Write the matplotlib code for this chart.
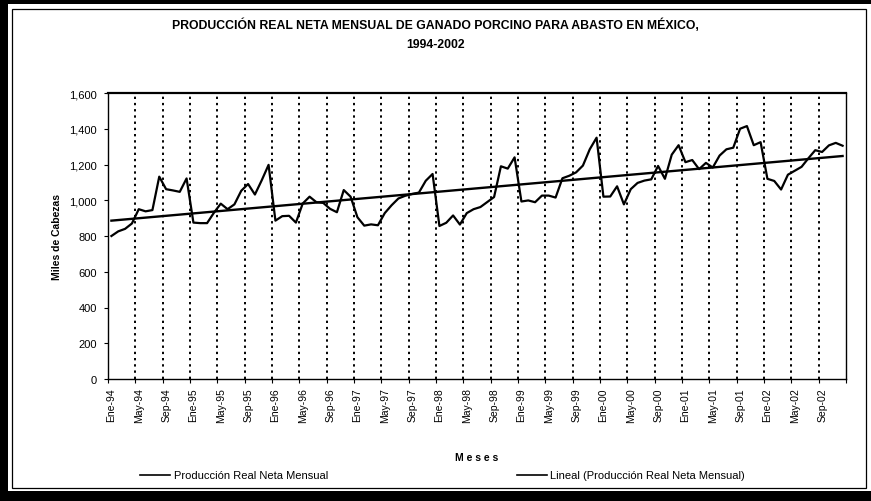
import numpy as np
import matplotlib
matplotlib.use("Agg")
import matplotlib.pyplot as plt
from matplotlib.lines import Line2D
from matplotlib.patches import Rectangle
from matplotlib.ticker import FuncFormatter

plt.rcParams['font.family'] = ['Liberation Sans', 'DejaVu Sans']

# ---- data (miles de cabezas), Ene-94 ... Dic-02 ----
produccion = [
    800, 826, 840, 870, 950, 938, 945, 1132, 1062, 1055, 1047, 1122,      # 1994
    875, 872, 872, 930, 981, 950, 977, 1053, 1091, 1032, 1112, 1198,      # 1995
    886, 911, 913, 875, 982, 1020, 989, 985, 952, 933, 1057, 1020,        # 1996
    905, 858, 865, 860, 928, 972, 1010, 1025, 1035, 1043, 1109, 1147,     # 1997
    856, 874, 915, 864, 928, 950, 962, 990, 1018, 1190, 1177, 1240,       # 1998
    993, 999, 989, 1026, 1026, 1015, 1123, 1137, 1156, 1194, 1285, 1350,  # 1999
    1020, 1021, 1078, 977, 1062, 1097, 1110, 1117, 1192, 1120, 1255, 1308,  # 2000
    1213, 1225, 1174, 1209, 1183, 1250, 1285, 1294, 1400, 1415, 1308, 1325,  # 2001
    1120, 1108, 1060, 1143, 1165, 1187, 1235, 1280, 1270, 1307, 1321, 1305,  # 2002
]
tick_labels = ['Ene-94', 'May-94', 'Sep-94', 'Ene-95', 'May-95', 'Sep-95',
               'Ene-96', 'May-96', 'Sep-96', 'Ene-97', 'May-97', 'Sep-97',
               'Ene-98', 'May-98', 'Sep-98', 'Ene-99', 'May-99', 'Sep-99',
               'Ene-00', 'May-00', 'Sep-00', 'Ene-01', 'May-01', 'Sep-01',
               'Ene-02', 'May-02', 'Sep-02']
y_ticks = [0, 200, 400, 600, 800, 1000, 1200, 1400, 1600]
titulo = "PRODUCCIÓN REAL NETA MENSUAL DE GANADO PORCINO PARA ABASTO EN MÉXICO,\n1994-2002"
serie_nombre = "Producción Real Neta Mensual"
tendencia_nombre = "Lineal (Producción Real Neta Mensual)"

W, H = 871, 502
def fx(px):
    return px / W
def fy(py):
    return 1 - py / H

fig = plt.figure(figsize=(W / 100, H / 100), dpi=100)
fig.patch.set_facecolor('white')

# outer frame
fig.add_artist(Rectangle((0, 0), fx(8), 1, transform=fig.transFigure, color='black', lw=0))
fig.add_artist(Rectangle((0, fy(5)), 1, 5 / H, transform=fig.transFigure, color='black', lw=0))
fig.add_artist(Rectangle((0, 0), 1, fy(492), transform=fig.transFigure, color='black', lw=0))
fig.add_artist(Rectangle((fx(12), fy(489)), fx(866) - fx(12), fy(10) - fy(489),
                         transform=fig.transFigure, fill=False, ec='black', lw=0.9))

ax = fig.add_axes([fx(108), fy(380), fx(846) - fx(108), fy(94) - fy(380)])
n = len(produccion)
x = np.arange(n)
y = np.array(produccion, dtype=float)
coef = np.polyfit(x, y, 1)
trend = np.polyval(coef, x)

# dotted vertical gridlines at category boundaries every 4 months
bounds = np.arange(4, n, 4) - 0.5
for b in bounds:
    ax.axvline(b, color='black', ls=(0, (1.2, 2.0)), lw=1.4, zorder=1)

ax.plot(x, y, color='black', lw=1.6, zorder=3)
ax.plot(x, trend, color='black', lw=1.7, zorder=3)

ax.set_xlim(-0.5, n - 0.5)
ax.set_ylim(0, 1600)
ax.set_yticks(y_ticks)
ax.yaxis.set_major_formatter(FuncFormatter(lambda v, p: f"{int(v):,}"))
ax.set_xticks(np.arange(0, n, 4))
ax.set_xticklabels(tick_labels, rotation=90, fontsize=7.5)
ax.set_xticks(np.arange(0, n + 1, 4) - 0.5, minor=True)
ax.tick_params(axis='x', which='major', length=0, pad=6)
ax.tick_params(axis='x', which='minor', length=3, direction='out', width=0.8)
ax.tick_params(axis='y', length=3, direction='out', width=0.8, labelsize=8, pad=5)
for s in ax.spines.values():
    s.set_color('black')
    s.set_linewidth(1.0)
ax.spines['top'].set_linewidth(1.6)

fig.text(0.5, fy(35), titulo, ha='center', va='center', fontsize=8.8,
         fontweight='bold', linespacing=1.8)
fig.text(fx(57), (fy(94) + fy(380)) / 2, 'Miles de Cabezas', rotation=90,
         ha='center', va='center', fontsize=7.5, fontweight='bold')
fig.text(fx(477), fy(458), 'M e s e s', ha='center', va='center', fontsize=7.5,
         fontweight='bold')

# legend
ly = fy(476)
fig.add_artist(Line2D([fx(140), fx(170)], [ly, ly], transform=fig.transFigure, color='black', lw=1.2))
fig.text(fx(174), ly, serie_nombre, ha='left', va='center', fontsize=8)
fig.add_artist(Line2D([fx(517), fx(547)], [ly, ly], transform=fig.transFigure, color='black', lw=1.2))
fig.text(fx(550), ly, tendencia_nombre, ha='left', va='center', fontsize=8)

fig.savefig('out.png', dpi=100, facecolor='white')
